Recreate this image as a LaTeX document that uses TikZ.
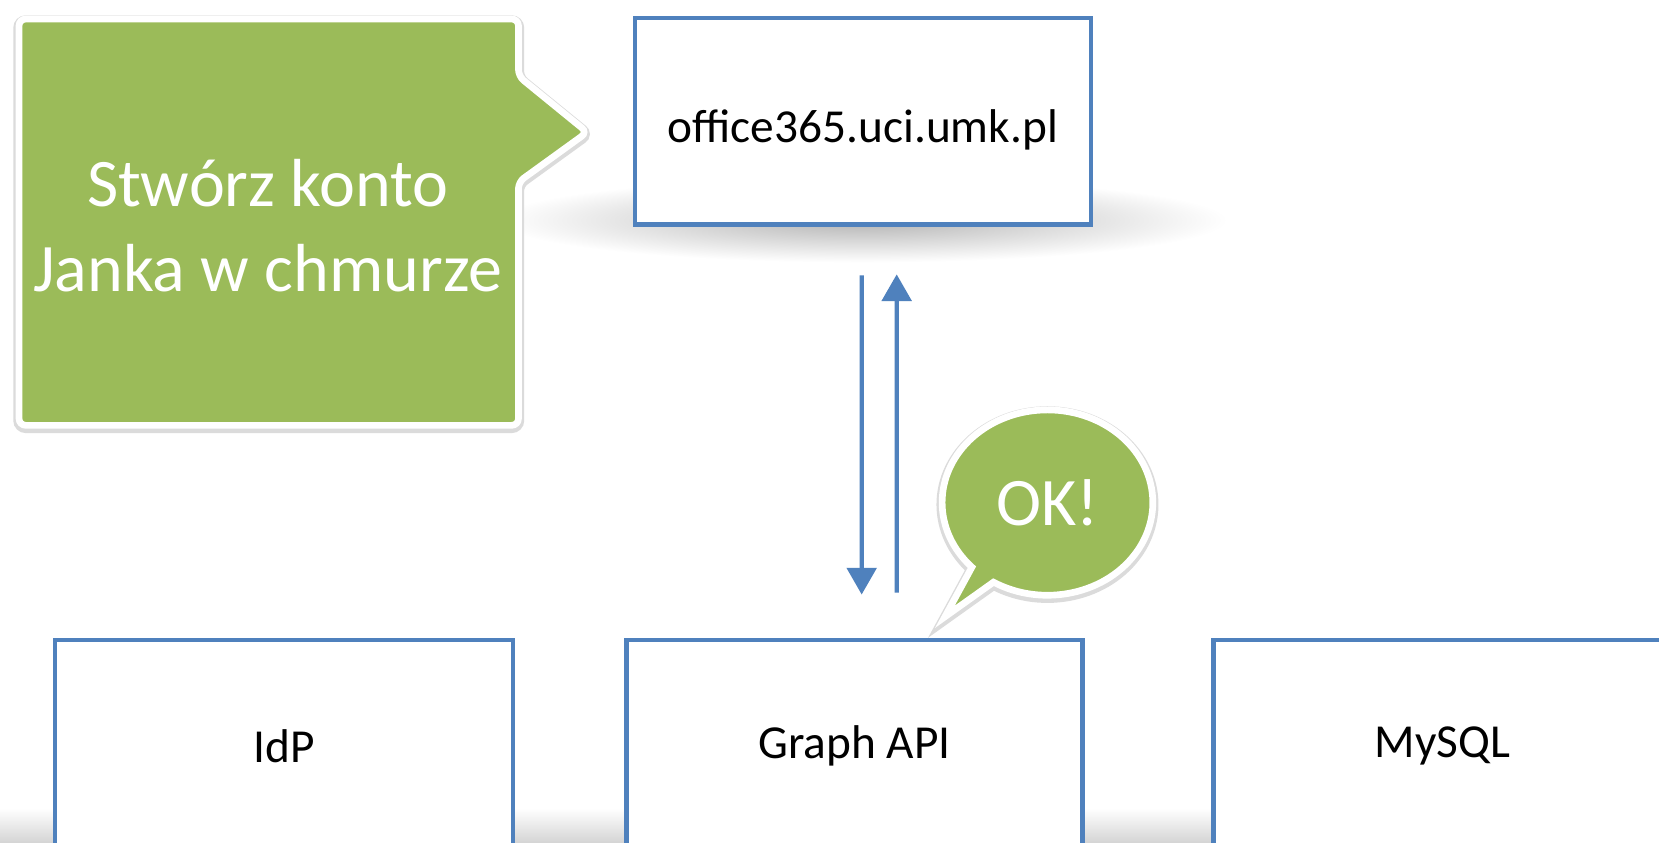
\documentclass[tikz,border=0pt]{standalone}
\usepackage{fontspec}
\setmainfont{Carlito}
\usetikzlibrary{shapes.callouts,arrows.meta,positioning}
\definecolor{boxblue}{HTML}{4F81BD}
\definecolor{calloutgreen}{HTML}{9BBB59}
\tikzset{
  sysbox/.style={draw=boxblue, line width=3.4pt, fill=white, inner sep=0pt,
    minimum width=342pt, minimum height=155pt, font=\fontsize{35.5}{43}\selectfont},
  flow/.style={boxblue, line width=3.2pt, -{Triangle[width=22pt,length=20pt]}},
  softshadow/.style={inner color=black!30, outer color=white},
  greennote/.style={fill=calloutgreen, draw=white, line width=5pt, text=white,
    preaction={draw=black!14, line width=8.5pt, transform canvas={yshift=-1.5pt}}},
}
\begin{document}
\begin{tikzpicture}[x=0.7935pt, y=-0.7935pt]
		\useasboundingbox (0,0) rectangle (1568,796);
		\clip (0,0) rectangle (1568,796);
		\fill[white] (0,0) rectangle (1568,796);
		
		% Shadows
		\shade[softshadow] (815,208) ellipse (345 and 40);
		\shade[top color=white, bottom color=black!17] (0,764) rectangle (1568,797);
		
		% Boxes
		\node[sysbox, text height=40pt, text depth=8pt] (office) at (815.5,114.5) {office365.uci.umk.pl};
		\node[sysbox, minimum width=343.6pt, minimum height=158.7pt] (idp) at (268.5,705) {IdP};
		\node[sysbox, minimum width=342pt, minimum height=158.7pt] (graph) at (807.5,705) {Graph API};
		\node[sysbox, minimum width=343.6pt, minimum height=158.7pt] (mysql) at (1363.5,705) {MySQL};
		
		% Callouts
		\draw[greennote, rounded corners=5pt] (18,18) -- (490,18) -- (490,72) -- (555,125) -- (490,172) -- (490,402) -- (18,402) -- cycle;
		\node[text=white, align=center, font=\fontsize{51}{64}\selectfont] (task) at (253,213) {Stwórz konto\\Janka w chmurze};
		\node[greennote, ellipse callout, inner sep=0pt,
		  minimum width=158pt, minimum height=139pt,
		  callout absolute pointer={(893,583)}, callout pointer arc=15,
		  font=\fontsize{51}{60}\selectfont] (ok) at (990,475) {OK!};
		
		% Requests
		\draw[flow] ([xshift=-0.87pt,yshift=-36.5pt]office.south) -- ([xshift=5.48pt,yshift=32.5pt]graph.north);
		\draw[flow] ([xshift=31.74pt,yshift=34pt]graph.north) -- ([xshift=25.39pt,yshift=-35.7pt]office.south);
	\end{tikzpicture}
\end{document}
